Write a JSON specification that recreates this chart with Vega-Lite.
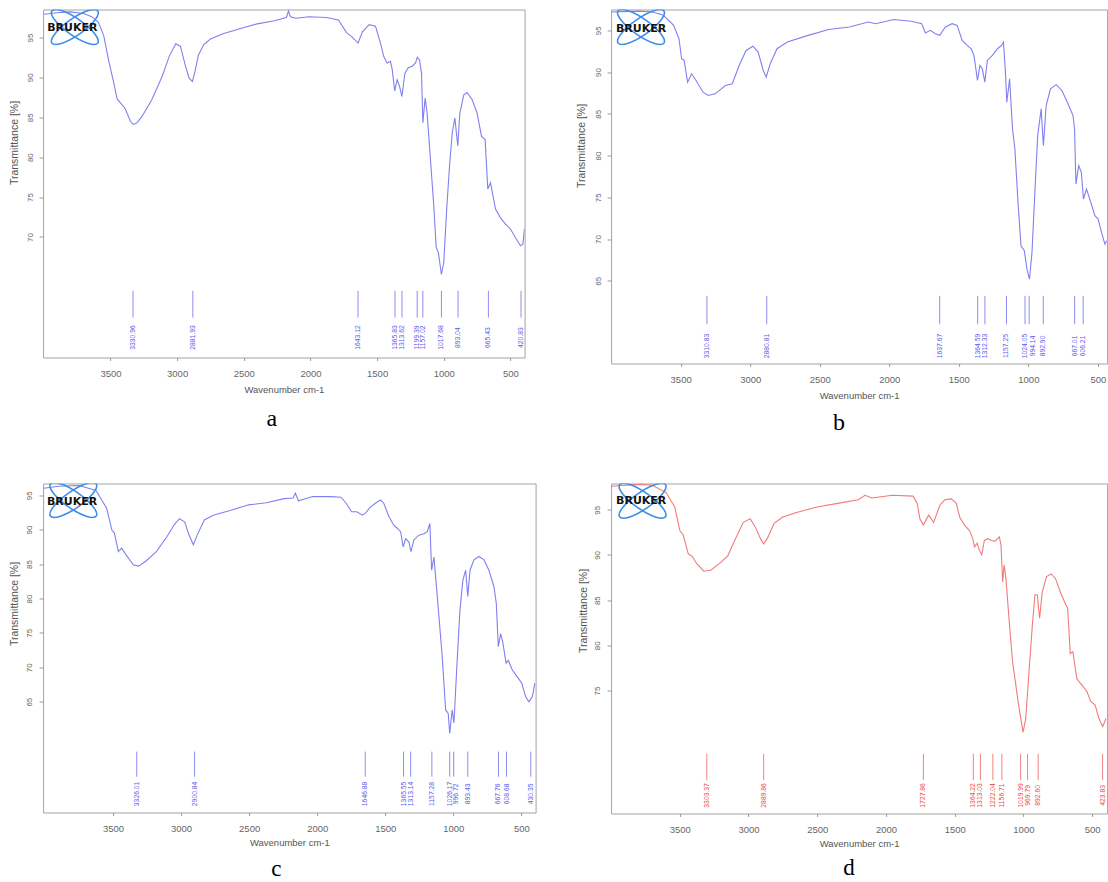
{
"$schema":"https://vega.github.io/schema/vega-lite/v6.json",
"padding":{"left":8.1,"top":8.5,"right":0,"bottom":0},
"background":"white",
"config":{"font":"Liberation Sans","view":{"stroke":"#a3a3a3","strokeWidth":1},"axis":{"grid":false,"domain":false,"tickColor":"#9a9a9a","labelColor":"#666","titleColor":"#555","titleFontWeight":"normal","labelFont":"Liberation Sans","titleFont":"Liberation Sans"}},
"datasets":{
"spec":[
{"p":"a","w":4000,"t":97.9},{"p":"a","w":3900,"t":98.1},{"p":"a","w":3800,"t":98.2},{"p":"a","w":3700,"t":98.0},{"p":"a","w":3640,"t":97.6},{"p":"a","w":3590,"t":96.9},{"p":"a","w":3550,"t":95.2},{"p":"a","w":3512,"t":92.0},{"p":"a","w":3475,"t":89.3},{"p":"a","w":3450,"t":87.3},{"p":"a","w":3425,"t":86.8},{"p":"a","w":3390,"t":86.1},{"p":"a","w":3350,"t":84.5},{"p":"a","w":3330,"t":84.1},{"p":"a","w":3300,"t":84.3},{"p":"a","w":3260,"t":85.2},{"p":"a","w":3190,"t":87.2},{"p":"a","w":3110,"t":90.2},{"p":"a","w":3060,"t":92.6},{"p":"a","w":3010,"t":94.2},{"p":"a","w":2975,"t":93.9},{"p":"a","w":2940,"t":91.6},{"p":"a","w":2910,"t":89.9},{"p":"a","w":2885,"t":89.5},{"p":"a","w":2865,"t":90.8},{"p":"a","w":2840,"t":92.8},{"p":"a","w":2800,"t":94.1},{"p":"a","w":2750,"t":94.8},{"p":"a","w":2650,"t":95.5},{"p":"a","w":2530,"t":96.1},{"p":"a","w":2400,"t":96.7},{"p":"a","w":2270,"t":97.1},{"p":"a","w":2180,"t":97.5},{"p":"a","w":2165,"t":98.3},{"p":"a","w":2150,"t":97.6},{"p":"a","w":2110,"t":97.4},{"p":"a","w":2010,"t":97.6},{"p":"a","w":1880,"t":97.5},{"p":"a","w":1790,"t":97.2},{"p":"a","w":1730,"t":95.6},{"p":"a","w":1690,"t":95.1},{"p":"a","w":1643,"t":94.3},{"p":"a","w":1610,"t":95.7},{"p":"a","w":1560,"t":96.6},{"p":"a","w":1512,"t":96.4},{"p":"a","w":1475,"t":94.3},{"p":"a","w":1450,"t":92.6},{"p":"a","w":1425,"t":91.8},{"p":"a","w":1400,"t":92.0},{"p":"a","w":1387,"t":91.0},{"p":"a","w":1368,"t":88.3},{"p":"a","w":1350,"t":89.7},{"p":"a","w":1332,"t":88.9},{"p":"a","w":1314,"t":87.6},{"p":"a","w":1292,"t":90.5},{"p":"a","w":1267,"t":91.2},{"p":"a","w":1237,"t":91.4},{"p":"a","w":1212,"t":91.8},{"p":"a","w":1199,"t":92.5},{"p":"a","w":1182,"t":92.2},{"p":"a","w":1167,"t":90.5},{"p":"a","w":1157,"t":84.3},{"p":"a","w":1140,"t":87.4},{"p":"a","w":1125,"t":85.5},{"p":"a","w":1100,"t":79.7},{"p":"a","w":1075,"t":73.9},{"p":"a","w":1057,"t":68.7},{"p":"a","w":1040,"t":68.0},{"p":"a","w":1018,"t":65.3},{"p":"a","w":1000,"t":66.8},{"p":"a","w":980,"t":73.0},{"p":"a","w":957,"t":78.9},{"p":"a","w":937,"t":83.0},{"p":"a","w":917,"t":84.9},{"p":"a","w":895,"t":81.4},{"p":"a","w":880,"t":85.5},{"p":"a","w":850,"t":87.8},{"p":"a","w":825,"t":88.1},{"p":"a","w":787,"t":87.2},{"p":"a","w":750,"t":85.5},{"p":"a","w":717,"t":82.6},{"p":"a","w":690,"t":82.2},{"p":"a","w":670,"t":76.0},{"p":"a","w":650,"t":76.8},{"p":"a","w":612,"t":73.5},{"p":"a","w":575,"t":72.4},{"p":"a","w":537,"t":71.6},{"p":"a","w":500,"t":71.0},{"p":"a","w":462,"t":69.9},{"p":"a","w":425,"t":68.9},{"p":"a","w":407,"t":69.1},{"p":"a","w":396,"t":71.0},
{"p":"b","w":4000,"t":97.2},{"p":"b","w":3800,"t":97.3},{"p":"b","w":3700,"t":97.2},{"p":"b","w":3624,"t":96.8},{"p":"b","w":3550,"t":95.6},{"p":"b","w":3512,"t":94.0},{"p":"b","w":3493,"t":91.6},{"p":"b","w":3475,"t":91.4},{"p":"b","w":3450,"t":88.8},{"p":"b","w":3421,"t":89.8},{"p":"b","w":3389,"t":89.0},{"p":"b","w":3339,"t":87.6},{"p":"b","w":3302,"t":87.2},{"p":"b","w":3252,"t":87.4},{"p":"b","w":3178,"t":88.4},{"p":"b","w":3129,"t":88.6},{"p":"b","w":3079,"t":90.8},{"p":"b","w":3030,"t":92.6},{"p":"b","w":2980,"t":93.1},{"p":"b","w":2943,"t":92.4},{"p":"b","w":2906,"t":90.2},{"p":"b","w":2885,"t":89.4},{"p":"b","w":2856,"t":91.0},{"p":"b","w":2807,"t":92.8},{"p":"b","w":2733,"t":93.6},{"p":"b","w":2584,"t":94.4},{"p":"b","w":2436,"t":95.1},{"p":"b","w":2287,"t":95.4},{"p":"b","w":2150,"t":96.0},{"p":"b","w":2100,"t":95.8},{"p":"b","w":1965,"t":96.3},{"p":"b","w":1842,"t":96.1},{"p":"b","w":1767,"t":95.8},{"p":"b","w":1740,"t":94.7},{"p":"b","w":1705,"t":95.0},{"p":"b","w":1669,"t":94.6},{"p":"b","w":1637,"t":94.4},{"p":"b","w":1597,"t":95.4},{"p":"b","w":1548,"t":95.8},{"p":"b","w":1512,"t":95.6},{"p":"b","w":1476,"t":93.8},{"p":"b","w":1440,"t":93.2},{"p":"b","w":1411,"t":92.8},{"p":"b","w":1391,"t":92.0},{"p":"b","w":1366,"t":89.0},{"p":"b","w":1348,"t":90.8},{"p":"b","w":1331,"t":90.4},{"p":"b","w":1313,"t":88.8},{"p":"b","w":1295,"t":91.4},{"p":"b","w":1259,"t":92.0},{"p":"b","w":1222,"t":92.8},{"p":"b","w":1193,"t":93.2},{"p":"b","w":1179,"t":93.6},{"p":"b","w":1165,"t":90.0},{"p":"b","w":1155,"t":86.4},{"p":"b","w":1135,"t":89.2},{"p":"b","w":1114,"t":83.2},{"p":"b","w":1097,"t":80.8},{"p":"b","w":1073,"t":74.0},{"p":"b","w":1053,"t":69.2},{"p":"b","w":1029,"t":68.6},{"p":"b","w":1010,"t":66.4},{"p":"b","w":992,"t":65.2},{"p":"b","w":974,"t":68.4},{"p":"b","w":952,"t":76.0},{"p":"b","w":933,"t":82.4},{"p":"b","w":908,"t":85.6},{"p":"b","w":892,"t":81.2},{"p":"b","w":872,"t":86.0},{"p":"b","w":841,"t":88.0},{"p":"b","w":800,"t":88.5},{"p":"b","w":759,"t":87.8},{"p":"b","w":720,"t":86.4},{"p":"b","w":679,"t":84.8},{"p":"b","w":668,"t":83.2},{"p":"b","w":658,"t":76.6},{"p":"b","w":638,"t":78.8},{"p":"b","w":619,"t":78.0},{"p":"b","w":604,"t":74.8},{"p":"b","w":582,"t":76.0},{"p":"b","w":551,"t":74.4},{"p":"b","w":522,"t":72.8},{"p":"b","w":498,"t":72.4},{"p":"b","w":474,"t":70.8},{"p":"b","w":450,"t":69.4},{"p":"b","w":437,"t":69.8},
{"p":"c","w":4010,"t":96.0},{"p":"c","w":3900,"t":96.3},{"p":"c","w":3750,"t":96.4},{"p":"c","w":3625,"t":95.7},{"p":"c","w":3547,"t":93.1},{"p":"c","w":3508,"t":89.9},{"p":"c","w":3490,"t":89.5},{"p":"c","w":3461,"t":86.8},{"p":"c","w":3437,"t":87.3},{"p":"c","w":3403,"t":86.3},{"p":"c","w":3351,"t":84.9},{"p":"c","w":3312,"t":84.7},{"p":"c","w":3260,"t":85.4},{"p":"c","w":3182,"t":86.8},{"p":"c","w":3103,"t":89.0},{"p":"c","w":3051,"t":90.7},{"p":"c","w":3012,"t":91.6},{"p":"c","w":2973,"t":91.1},{"p":"c","w":2947,"t":89.5},{"p":"c","w":2910,"t":87.8},{"p":"c","w":2882,"t":89.2},{"p":"c","w":2829,"t":91.4},{"p":"c","w":2764,"t":92.1},{"p":"c","w":2634,"t":92.8},{"p":"c","w":2503,"t":93.6},{"p":"c","w":2373,"t":93.9},{"p":"c","w":2243,"t":94.5},{"p":"c","w":2177,"t":94.6},{"p":"c","w":2160,"t":95.3},{"p":"c","w":2138,"t":94.2},{"p":"c","w":2034,"t":94.8},{"p":"c","w":1900,"t":94.8},{"p":"c","w":1825,"t":94.7},{"p":"c","w":1786,"t":93.8},{"p":"c","w":1747,"t":92.6},{"p":"c","w":1708,"t":92.6},{"p":"c","w":1668,"t":92.1},{"p":"c","w":1645,"t":92.4},{"p":"c","w":1608,"t":93.3},{"p":"c","w":1559,"t":94.0},{"p":"c","w":1534,"t":94.3},{"p":"c","w":1510,"t":93.8},{"p":"c","w":1473,"t":91.9},{"p":"c","w":1436,"t":90.6},{"p":"c","w":1412,"t":90.2},{"p":"c","w":1387,"t":89.7},{"p":"c","w":1368,"t":87.5},{"p":"c","w":1350,"t":88.7},{"p":"c","w":1326,"t":88.2},{"p":"c","w":1311,"t":86.8},{"p":"c","w":1289,"t":88.5},{"p":"c","w":1253,"t":89.2},{"p":"c","w":1216,"t":89.4},{"p":"c","w":1191,"t":89.7},{"p":"c","w":1172,"t":90.9},{"p":"c","w":1159,"t":84.1},{"p":"c","w":1142,"t":86.0},{"p":"c","w":1130,"t":83.2},{"p":"c","w":1105,"t":77.3},{"p":"c","w":1081,"t":71.5},{"p":"c","w":1056,"t":63.8},{"p":"c","w":1037,"t":63.3},{"p":"c","w":1026,"t":60.4},{"p":"c","w":1008,"t":63.8},{"p":"c","w":995,"t":61.9},{"p":"c","w":975,"t":69.6},{"p":"c","w":951,"t":78.3},{"p":"c","w":929,"t":82.7},{"p":"c","w":909,"t":84.1},{"p":"c","w":893,"t":80.3},{"p":"c","w":877,"t":84.1},{"p":"c","w":848,"t":85.6},{"p":"c","w":811,"t":86.1},{"p":"c","w":774,"t":85.6},{"p":"c","w":738,"t":84.1},{"p":"c","w":701,"t":81.7},{"p":"c","w":684,"t":79.3},{"p":"c","w":669,"t":73.0},{"p":"c","w":652,"t":74.9},{"p":"c","w":635,"t":73.5},{"p":"c","w":612,"t":70.6},{"p":"c","w":596,"t":71.0},{"p":"c","w":566,"t":69.6},{"p":"c","w":529,"t":68.6},{"p":"c","w":497,"t":67.7},{"p":"c","w":468,"t":65.7},{"p":"c","w":444,"t":65.0},{"p":"c","w":430,"t":65.4},{"p":"c","w":419,"t":65.7},{"p":"c","w":400,"t":67.7},
{"p":"d","w":4000,"t":97.6},{"p":"d","w":3800,"t":97.8},{"p":"d","w":3700,"t":97.7},{"p":"d","w":3600,"t":96.9},{"p":"d","w":3537,"t":95.3},{"p":"d","w":3500,"t":92.7},{"p":"d","w":3475,"t":92.2},{"p":"d","w":3438,"t":90.1},{"p":"d","w":3413,"t":89.9},{"p":"d","w":3375,"t":89.0},{"p":"d","w":3325,"t":88.2},{"p":"d","w":3275,"t":88.3},{"p":"d","w":3200,"t":89.2},{"p":"d","w":3151,"t":89.9},{"p":"d","w":3101,"t":91.6},{"p":"d","w":3038,"t":93.6},{"p":"d","w":2988,"t":94.0},{"p":"d","w":2951,"t":93.1},{"p":"d","w":2913,"t":91.8},{"p":"d","w":2890,"t":91.2},{"p":"d","w":2864,"t":91.8},{"p":"d","w":2814,"t":93.5},{"p":"d","w":2751,"t":94.2},{"p":"d","w":2651,"t":94.7},{"p":"d","w":2502,"t":95.3},{"p":"d","w":2352,"t":95.7},{"p":"d","w":2202,"t":96.1},{"p":"d","w":2152,"t":96.6},{"p":"d","w":2102,"t":96.3},{"p":"d","w":1952,"t":96.6},{"p":"d","w":1803,"t":96.5},{"p":"d","w":1773,"t":95.7},{"p":"d","w":1753,"t":94.0},{"p":"d","w":1728,"t":93.3},{"p":"d","w":1690,"t":94.4},{"p":"d","w":1653,"t":93.6},{"p":"d","w":1608,"t":95.5},{"p":"d","w":1572,"t":96.1},{"p":"d","w":1524,"t":96.2},{"p":"d","w":1488,"t":95.7},{"p":"d","w":1464,"t":94.2},{"p":"d","w":1428,"t":93.3},{"p":"d","w":1392,"t":92.7},{"p":"d","w":1368,"t":91.8},{"p":"d","w":1356,"t":90.9},{"p":"d","w":1337,"t":91.3},{"p":"d","w":1320,"t":90.5},{"p":"d","w":1303,"t":90.0},{"p":"d","w":1284,"t":91.6},{"p":"d","w":1260,"t":91.8},{"p":"d","w":1231,"t":91.6},{"p":"d","w":1207,"t":91.5},{"p":"d","w":1175,"t":92.0},{"p":"d","w":1163,"t":91.1},{"p":"d","w":1151,"t":87.0},{"p":"d","w":1140,"t":88.9},{"p":"d","w":1127,"t":87.4},{"p":"d","w":1103,"t":82.6},{"p":"d","w":1079,"t":78.2},{"p":"d","w":1055,"t":75.6},{"p":"d","w":1039,"t":73.8},{"p":"d","w":1019,"t":71.9},{"p":"d","w":1002,"t":70.4},{"p":"d","w":983,"t":71.9},{"p":"d","w":959,"t":77.1},{"p":"d","w":935,"t":82.2},{"p":"d","w":916,"t":85.6},{"p":"d","w":899,"t":85.6},{"p":"d","w":882,"t":83.0},{"p":"d","w":863,"t":85.9},{"p":"d","w":832,"t":87.6},{"p":"d","w":798,"t":87.9},{"p":"d","w":767,"t":87.4},{"p":"d","w":731,"t":85.9},{"p":"d","w":695,"t":84.6},{"p":"d","w":678,"t":84.1},{"p":"d","w":659,"t":79.1},{"p":"d","w":640,"t":79.3},{"p":"d","w":611,"t":76.3},{"p":"d","w":574,"t":75.6},{"p":"d","w":538,"t":74.9},{"p":"d","w":510,"t":73.8},{"p":"d","w":478,"t":73.4},{"p":"d","w":450,"t":71.9},{"p":"d","w":423,"t":71.0},{"p":"d","w":399,"t":71.9}
],
"peaks":[
{"p":"a","w":3330.96,"label":"3330.96"},{"p":"a","w":2881.93,"label":"2881.93"},{"p":"a","w":1643.12,"label":"1643.12"},{"p":"a","w":1365.83,"label":"1365.83"},{"p":"a","w":1313.62,"label":"1313.62"},{"p":"a","w":1199.39,"label":"1199.39"},{"p":"a","w":1157.02,"label":"1157.02"},{"p":"a","w":1017.68,"label":"1017.68"},{"p":"a","w":893.04,"label":"893.04"},{"p":"a","w":665.43,"label":"665.43"},{"p":"a","w":420.83,"label":"420.83"},
{"p":"b","w":3310.83,"label":"3310.83"},{"p":"b","w":2880.81,"label":"2880.81"},{"p":"b","w":1637.67,"label":"1637.67"},{"p":"b","w":1364.59,"label":"1364.59"},{"p":"b","w":1312.33,"label":"1312.33"},{"p":"b","w":1157.25,"label":"1157.25"},{"p":"b","w":1024.05,"label":"1024.05"},{"p":"b","w":994.14,"label":"994.14"},{"p":"b","w":892.90,"label":"892.90"},{"p":"b","w":667.01,"label":"667.01"},{"p":"b","w":606.21,"label":"606.21"},
{"p":"c","w":3326.01,"label":"3326.01"},{"p":"c","w":2900.84,"label":"2900.84"},{"p":"c","w":1646.88,"label":"1646.88"},{"p":"c","w":1365.55,"label":"1365.55"},{"p":"c","w":1313.14,"label":"1313.14"},{"p":"c","w":1157.28,"label":"1157.28"},{"p":"c","w":1026.17,"label":"1026.17"},{"p":"c","w":996.72,"label":"996.72"},{"p":"c","w":893.43,"label":"893.43"},{"p":"c","w":667.76,"label":"667.76"},{"p":"c","w":608.68,"label":"608.68"},{"p":"c","w":430.35,"label":"430.35"},
{"p":"d","w":3303.37,"label":"3303.37"},{"p":"d","w":2889.86,"label":"2889.86"},{"p":"d","w":1727.86,"label":"1727.86"},{"p":"d","w":1364.22,"label":"1364.22"},{"p":"d","w":1313.03,"label":"1313.03"},{"p":"d","w":1222.04,"label":"1222.04"},{"p":"d","w":1156.71,"label":"1156.71"},{"p":"d","w":1019.99,"label":"1019.99"},{"p":"d","w":969.79,"label":"969.79"},{"p":"d","w":892.60,"label":"892.60"},{"p":"d","w":423.83,"label":"423.83"}
]
},
"columns":2,
"spacing":{"row":120,"column":75},
"bounds":"flush",
"concat":[
{"width":481.5,"height":348,
"title":{"text":"a","orient":"bottom","frame":"group","anchor":"middle","dx":-12,"offset":32,"baseline":"alphabetic","font":"Liberation Serif","fontSize":24,"fontWeight":"normal","color":"#000"},
"layer":[
{"data":{"name":"spec"},"transform":[{"filter":"datum.p==='a'"}],"mark":{"type":"line","color":"#8080f0","strokeWidth":1.1,"clip":true},
"encoding":{"x":{"field":"w","type":"quantitative","scale":{"domain":[394,4005],"reverse":true,"nice":false,"zero":false},"axis":{"values":[3500,3000,2500,2000,1500,1000,500],"format":"d","tickSize":3,"labelFontSize":9.5,"labelPadding":8,"labelFlush":false,"title":"Wavenumber cm-1","titleFontSize":9.5,"titlePadding":6}},
"y":{"field":"t","type":"quantitative","scale":{"domain":[54.9,98.5],"nice":false,"zero":false},"axis":{"values":[70,75,80,85,90,95],"tickSize":4,"labelAngle":270,"labelAlign":"center","labelBaseline":"bottom","labelFontSize":8,"labelPadding":5,"title":"Transmittance [%]","titleFontSize":10.5,"titleX":-28.6,"titleY":133,"titleAngle":270,"titleAlign":"center","titleBaseline":"middle"}}}},
{"data":{"name":"peaks"},"transform":[{"filter":"datum.p==='a'"}],"mark":{"type":"rule","color":"#7070ee","strokeWidth":0.8},"encoding":{"x":{"field":"w","type":"quantitative"},"y":{"datum":63.25},"y2":{"datum":59.9}}},
{"data":{"name":"peaks"},"transform":[{"filter":"datum.p==='a'"}],"mark":{"type":"text","angle":270,"fontSize":6.8,"color":"#5c5cf0","align":"center","baseline":"middle"},"encoding":{"x":{"field":"w","type":"quantitative"},"y":{"datum":57.4},"text":{"field":"label"}}},
{"data":{"values":[{}]},"mark":{"type":"point","shape":"M-1,0A1,0.3,0,1,1,1,0A1,0.3,0,1,1,-1,0Z","size":3136,"angle":35,"color":"#3d8ee8","strokeWidth":1.6,"opacity":1,"clip":true},"encoding":{"x":{"datum":3767},"y":{"datum":96.3}}},
{"data":{"values":[{}]},"mark":{"type":"point","shape":"M-1,0A1,0.3,0,1,1,1,0A1,0.3,0,1,1,-1,0Z","size":3136,"angle":-35,"color":"#3d8ee8","strokeWidth":1.6,"opacity":1,"clip":true},"encoding":{"x":{"datum":3767},"y":{"datum":96.3}}},
{"data":{"values":[{}]},"mark":{"type":"text","text":"BRUKER","font":"DejaVu Sans","fontWeight":"bold","fontSize":11,"color":"#111","clip":true},"encoding":{"x":{"datum":3786},"y":{"datum":96.2}}}
]},
{"width":496,"height":354,
"title":{"text":"b","orient":"bottom","frame":"group","anchor":"middle","dx":-20,"offset":30,"baseline":"alphabetic","font":"Liberation Serif","fontSize":24,"fontWeight":"normal","color":"#000"},
"layer":[
{"data":{"name":"spec"},"transform":[{"filter":"datum.p==='b'"}],"mark":{"type":"line","color":"#8080f0","strokeWidth":1.1,"clip":true},
"encoding":{"x":{"field":"w","type":"quantitative","scale":{"domain":[434,4000],"reverse":true,"nice":false,"zero":false},"axis":{"values":[3500,3000,2500,2000,1500,1000,500],"format":"d","tickSize":3,"labelFontSize":9.5,"labelPadding":8,"labelFlush":false,"title":"Wavenumber cm-1","titleFontSize":9.5,"titlePadding":6}},
"y":{"field":"t","type":"quantitative","scale":{"domain":[55.1,97.5],"nice":false,"zero":false},"axis":{"values":[65,70,75,80,85,90,95],"tickSize":4,"labelAngle":270,"labelAlign":"center","labelBaseline":"bottom","labelFontSize":8,"labelPadding":5,"title":"Transmittance [%]","titleFontSize":10.5,"titleX":-30,"titleY":136,"titleAngle":270,"titleAlign":"center","titleBaseline":"middle"}}}},
{"data":{"name":"peaks"},"transform":[{"filter":"datum.p==='b'"}],"mark":{"type":"rule","color":"#7070ee","strokeWidth":0.8},"encoding":{"x":{"field":"w","type":"quantitative"},"y":{"datum":63.2},"y2":{"datum":59.8}}},
{"data":{"name":"peaks"},"transform":[{"filter":"datum.p==='b' && datum.label!=='994.14'"}],"mark":{"type":"text","angle":270,"fontSize":6.8,"color":"#5c5cf0","align":"center","baseline":"middle"},"encoding":{"x":{"field":"w","type":"quantitative"},"y":{"datum":57.2},"text":{"field":"label"}}},
{"data":{"name":"peaks"},"transform":[{"filter":"datum.label==='994.14'"}],"mark":{"type":"text","angle":270,"fontSize":6.8,"color":"#5c5cf0","align":"center","baseline":"middle","dy":3.5},"encoding":{"x":{"field":"w","type":"quantitative"},"y":{"datum":57.2},"text":{"field":"label"}}},
{"data":{"values":[{}]},"mark":{"type":"point","shape":"M-1,0A1,0.3,0,1,1,1,0A1,0.3,0,1,1,-1,0Z","size":3136,"angle":35,"color":"#3d8ee8","strokeWidth":1.6,"opacity":1,"clip":true},"encoding":{"x":{"datum":3785},"y":{"datum":95.4}}},
{"data":{"values":[{}]},"mark":{"type":"point","shape":"M-1,0A1,0.3,0,1,1,1,0A1,0.3,0,1,1,-1,0Z","size":3136,"angle":-35,"color":"#3d8ee8","strokeWidth":1.6,"opacity":1,"clip":true},"encoding":{"x":{"datum":3785},"y":{"datum":95.4}}},
{"data":{"values":[{}]},"mark":{"type":"text","text":"BRUKER","font":"DejaVu Sans","fontWeight":"bold","fontSize":11,"color":"#111","clip":true},"encoding":{"x":{"datum":3785},"y":{"datum":95.2}}}
]},
{"width":492.5,"height":329,
"title":{"text":"c","orient":"bottom","frame":"group","anchor":"middle","dx":-13,"offset":29,"baseline":"alphabetic","font":"Liberation Serif","fontSize":23,"fontWeight":"normal","color":"#000"},
"layer":[
{"data":{"name":"spec"},"transform":[{"filter":"datum.p==='c'"}],"mark":{"type":"line","color":"#8080f0","strokeWidth":1.1,"clip":true},
"encoding":{"x":{"field":"w","type":"quantitative","scale":{"domain":[395,4014],"reverse":true,"nice":false,"zero":false},"axis":{"values":[3500,3000,2500,2000,1500,1000,500],"format":"d","tickSize":3,"labelFontSize":9.5,"labelPadding":8,"labelFlush":false,"title":"Wavenumber cm-1","titleFontSize":9.5,"titlePadding":5}},
"y":{"field":"t","type":"quantitative","scale":{"domain":[48.9,96.7],"nice":false,"zero":false},"axis":{"values":[65,70,75,80,85,90,95],"tickSize":4,"labelAngle":270,"labelAlign":"center","labelBaseline":"bottom","labelFontSize":8,"labelPadding":6,"title":"Transmittance [%]","titleFontSize":10.5,"titleX":-28.8,"titleY":120,"titleAngle":270,"titleAlign":"center","titleBaseline":"middle"}}}},
{"data":{"name":"peaks"},"transform":[{"filter":"datum.p==='c'"}],"mark":{"type":"rule","color":"#7070ee","strokeWidth":0.8},"encoding":{"x":{"field":"w","type":"quantitative"},"y":{"datum":57.75},"y2":{"datum":54.1}}},
{"data":{"name":"peaks"},"transform":[{"filter":"datum.p==='c' && datum.label!=='996.72'"}],"mark":{"type":"text","angle":270,"fontSize":6.8,"color":"#5c5cf0","align":"center","baseline":"middle"},"encoding":{"x":{"field":"w","type":"quantitative"},"y":{"datum":51.6},"text":{"field":"label"}}},
{"data":{"name":"peaks"},"transform":[{"filter":"datum.label==='996.72'"}],"mark":{"type":"text","angle":270,"fontSize":6.8,"color":"#5c5cf0","align":"center","baseline":"middle","dy":2.5},"encoding":{"x":{"field":"w","type":"quantitative"},"y":{"datum":51.6},"text":{"field":"label"}}},
{"data":{"values":[{}]},"mark":{"type":"point","shape":"M-1,0A1,0.3,0,1,1,1,0A1,0.3,0,1,1,-1,0Z","size":3136,"angle":35,"color":"#3d8ee8","strokeWidth":1.6,"opacity":1,"clip":true},"encoding":{"x":{"datum":3792},"y":{"datum":94.3}}},
{"data":{"values":[{}]},"mark":{"type":"point","shape":"M-1,0A1,0.3,0,1,1,1,0A1,0.3,0,1,1,-1,0Z","size":3136,"angle":-35,"color":"#3d8ee8","strokeWidth":1.6,"opacity":1,"clip":true},"encoding":{"x":{"datum":3792},"y":{"datum":94.3}}},
{"data":{"values":[{}]},"mark":{"type":"text","text":"BRUKER","font":"DejaVu Sans","fontWeight":"bold","fontSize":11,"color":"#111","clip":true},"encoding":{"x":{"datum":3801},"y":{"datum":94.0}}}
]},
{"width":496,"height":330,
"title":{"text":"d","orient":"bottom","frame":"group","anchor":"middle","dx":-10,"offset":27,"baseline":"alphabetic","font":"Liberation Serif","fontSize":23,"fontWeight":"normal","color":"#000"},
"layer":[
{"data":{"name":"spec"},"transform":[{"filter":"datum.p==='d'"}],"mark":{"type":"line","color":"#f27a7a","strokeWidth":1.1,"clip":true},
"encoding":{"x":{"field":"w","type":"quantitative","scale":{"domain":[391,4000],"reverse":true,"nice":false,"zero":false},"axis":{"values":[3500,3000,2500,2000,1500,1000,500],"format":"d","tickSize":3,"labelFontSize":9.5,"labelPadding":8,"labelFlush":false,"title":"Wavenumber cm-1","titleFontSize":9.5,"titlePadding":5}},
"y":{"field":"t","type":"quantitative","scale":{"domain":[61.4,97.9],"nice":false,"zero":false},"axis":{"values":[75,80,85,90,95],"tickSize":4,"labelAngle":270,"labelAlign":"center","labelBaseline":"bottom","labelFontSize":8,"labelPadding":6,"title":"Transmittance [%]","titleFontSize":10.5,"titleX":-28,"titleY":127,"titleAngle":270,"titleAlign":"center","titleBaseline":"middle"}}}},
{"data":{"name":"peaks"},"transform":[{"filter":"datum.p==='d'"}],"mark":{"type":"rule","color":"#f06060","strokeWidth":0.8},"encoding":{"x":{"field":"w","type":"quantitative"},"y":{"datum":68.0},"y2":{"datum":65.1}}},
{"data":{"name":"peaks"},"transform":[{"filter":"datum.p==='d'"}],"mark":{"type":"text","angle":270,"fontSize":6.8,"color":"#ee4a4a","align":"center","baseline":"middle"},"encoding":{"x":{"field":"w","type":"quantitative"},"y":{"datum":63.4},"text":{"field":"label"}}},
{"data":{"values":[{}]},"mark":{"type":"point","shape":"M-1,0A1,0.3,0,1,1,1,0A1,0.3,0,1,1,-1,0Z","size":3136,"angle":35,"color":"#3d8ee8","strokeWidth":1.6,"opacity":1,"clip":true},"encoding":{"x":{"datum":3771},"y":{"datum":96.0}}},
{"data":{"values":[{}]},"mark":{"type":"point","shape":"M-1,0A1,0.3,0,1,1,1,0A1,0.3,0,1,1,-1,0Z","size":3136,"angle":-35,"color":"#3d8ee8","strokeWidth":1.6,"opacity":1,"clip":true},"encoding":{"x":{"datum":3771},"y":{"datum":96.0}}},
{"data":{"values":[{}]},"mark":{"type":"text","text":"BRUKER","font":"DejaVu Sans","fontWeight":"bold","fontSize":11,"color":"#111","clip":true},"encoding":{"x":{"datum":3781},"y":{"datum":96.0}}}
]}
]
}
